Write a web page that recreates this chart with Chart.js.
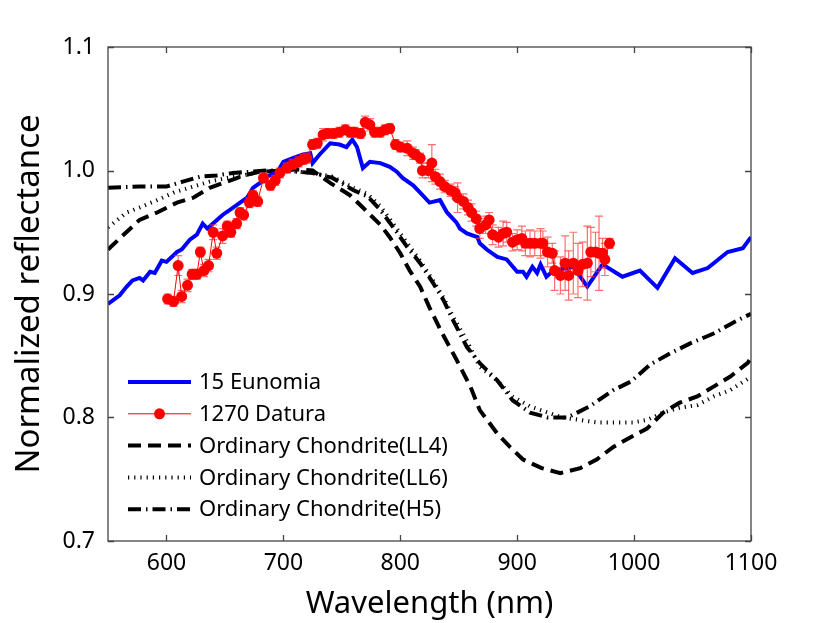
<!DOCTYPE html>
<html>
<head>
<meta charset="utf-8">
<script src="https://cdn.jsdelivr.net/npm/chart.js@4"></script>
<style>
  html, body { margin: 0; padding: 0; background: #fff; }
  canvas { display: block; }
</style>
</head>
<body>
<canvas id="chart" width="831" height="623"></canvas>
<script>
// axis ticks
var xTicks = [600, 700, 800, 900, 1000, 1100];
var yTicks = [0.7, 0.8, 0.9, 1.0, 1.1];

// 15 Eunomia
var eunomiaWave = [550, 560, 566, 571, 577, 580, 586, 590, 596, 600,
  609, 613, 620, 626, 631, 635, 641, 648, 657, 663,
  669, 674, 680, 686, 695, 700, 708, 717, 723, 725,
  731, 740, 748, 754, 759, 763, 768, 774, 783, 791,
  797, 802, 811, 817, 825, 834, 840, 848, 851, 857,
  866, 868, 874, 883, 891, 900, 905, 908, 913, 917,
  920, 925, 931, 943, 948, 960, 973, 990, 1005, 1020,
  1035, 1050, 1063, 1080, 1093, 1100];
var eunomiaRefl = [0.892, 0.899, 0.906, 0.911, 0.913, 0.911, 0.918, 0.917, 0.927, 0.926,
  0.934, 0.936, 0.944, 0.948, 0.957, 0.953, 0.958, 0.964, 0.970, 0.974,
  0.978, 0.986, 0.990, 0.995, 0.999, 1.007, 1.010, 1.013, 1.014, 1.006,
  1.013, 1.022, 1.021, 1.019, 1.025, 1.019, 1.002, 1.007, 1.006, 1.003,
  0.999, 0.994, 0.988, 0.982, 0.974, 0.976, 0.966, 0.958, 0.953, 0.949,
  0.946, 0.941, 0.936, 0.930, 0.928, 0.918, 0.918, 0.914, 0.922, 0.917,
  0.924, 0.914, 0.919, 0.921, 0.922, 0.906, 0.924, 0.914, 0.919, 0.905,
  0.929, 0.917, 0.921, 0.934, 0.937, 0.946];

// 1270 Datura (with 1-sigma errors)
var daturaWave = [601, 606, 610, 613, 618, 622, 626, 629, 632, 636,
  640, 643, 648, 652, 655, 660, 663, 666, 671, 674,
  678, 683, 689, 693, 697, 703, 708, 713, 717, 720,
  725, 729, 734, 738, 743, 748, 753, 757, 761, 766,
  770, 774, 778, 783, 787, 791, 796, 800, 806, 811,
  813, 817, 819, 824, 827, 830, 834, 838, 843, 847,
  849, 854, 858, 861, 865, 868, 873, 876, 879, 884,
  888, 891, 896, 900, 904, 907, 911, 915, 920, 922,
  926, 930, 932, 937, 941, 944, 948, 952, 956, 960,
  963, 967, 970, 973, 975, 979];
var daturaRefl = [0.896, 0.894, 0.923, 0.898, 0.907, 0.916, 0.916, 0.934, 0.919, 0.923,
  0.950, 0.933, 0.947, 0.955, 0.950, 0.957, 0.966, 0.964, 0.974, 0.980,
  0.975, 0.994, 0.988, 0.992, 0.998, 1.002, 1.005, 1.007, 1.009, 1.010,
  1.021, 1.022, 1.029, 1.030, 1.030, 1.031, 1.033, 1.031, 1.031, 1.030,
  1.039, 1.037, 1.031, 1.031, 1.033, 1.034, 1.021, 1.019, 1.018, 1.014,
  1.013, 1.010, 1.000, 1.000, 1.006, 0.995, 0.991, 0.987, 0.984, 0.982,
  0.978, 0.975, 0.970, 0.966, 0.961, 0.953, 0.956, 0.960, 0.948, 0.946,
  0.949, 0.950, 0.942, 0.944, 0.945, 0.941, 0.941, 0.941, 0.941, 0.941,
  0.934, 0.933, 0.919, 0.915, 0.925, 0.915, 0.925, 0.919, 0.924, 0.925,
  0.934, 0.934, 0.933, 0.933, 0.928, 0.941];
var daturaErr = [0.004, 0.004, 0.008, 0.005, 0.005, 0.004, 0.004, 0.004, 0.005, 0.005,
  0.006, 0.005, 0.006, 0.004, 0.004, 0.004, 0.004, 0.004, 0.004, 0.004,
  0.004, 0.004, 0.004, 0.004, 0.004, 0.004, 0.004, 0.004, 0.004, 0.004,
  0.004, 0.004, 0.005, 0.004, 0.004, 0.004, 0.004, 0.004, 0.004, 0.004,
  0.005, 0.005, 0.004, 0.004, 0.004, 0.004, 0.004, 0.004, 0.006, 0.005,
  0.004, 0.004, 0.006, 0.006, 0.015, 0.006, 0.006, 0.005, 0.005, 0.005,
  0.012, 0.006, 0.006, 0.007, 0.006, 0.008, 0.007, 0.006, 0.008, 0.008,
  0.010, 0.008, 0.007, 0.008, 0.010, 0.010, 0.011, 0.010, 0.012, 0.010,
  0.012, 0.008, 0.016, 0.015, 0.022, 0.020, 0.025, 0.022, 0.018, 0.030,
  0.020, 0.016, 0.030, 0.012, 0.013, 0.004];

// Ordinary chondrites
var ll4Wave = [550, 560, 577, 592, 609, 623, 637, 652, 666, 680,
  700, 712, 725, 740, 757, 768, 783, 791, 800, 808,
  817, 825, 836, 848, 860, 868, 883, 894, 905, 921,
  937, 954, 968, 982, 997, 1011, 1025, 1039, 1054, 1068,
  1082, 1097, 1100];
var ll4Refl = [0.936, 0.945, 0.960, 0.966, 0.974, 0.978, 0.986, 0.991, 0.996, 0.999,
  1.000, 1.001, 1.000, 0.990, 0.980, 0.970, 0.956, 0.946, 0.933, 0.919,
  0.906, 0.889, 0.868, 0.847, 0.825, 0.806, 0.787, 0.776, 0.766, 0.759,
  0.755, 0.759, 0.766, 0.776, 0.784, 0.791, 0.804, 0.812, 0.817, 0.825,
  0.833, 0.844, 0.848];

var ll6Wave = [550, 566, 577, 592, 606, 623, 637, 652, 666, 680,
  700, 712, 725, 742, 760, 772, 783, 794, 806, 817,
  828, 837, 845, 857, 868, 883, 896, 911, 926, 939,
  954, 968, 982, 999, 1011, 1025, 1039, 1054, 1068, 1082,
  1100];
var ll6Refl = [0.954, 0.966, 0.970, 0.976, 0.982, 0.987, 0.991, 0.994, 0.996, 0.999,
  1.000, 0.999, 0.998, 0.995, 0.986, 0.981, 0.971, 0.957, 0.941, 0.927,
  0.911, 0.897, 0.882, 0.862, 0.841, 0.830, 0.817, 0.809, 0.804, 0.800,
  0.798, 0.796, 0.796, 0.796, 0.798, 0.804, 0.808, 0.810, 0.817, 0.822,
  0.833];

var h5Wave = [550, 577, 600, 614, 629, 643, 657, 672, 686, 700,
  712, 725, 742, 760, 772, 783, 794, 806, 817, 828,
  837, 845, 857, 868, 883, 896, 911, 926, 943, 962,
  982, 997, 1014, 1031, 1048, 1068, 1085, 1100];
var h5Refl = [0.986, 0.987, 0.987, 0.991, 0.995, 0.996, 0.998, 0.999, 1.000, 1.000,
  0.999, 0.998, 0.994, 0.984, 0.979, 0.968, 0.954, 0.938, 0.925, 0.909,
  0.895, 0.879, 0.857, 0.844, 0.830, 0.814, 0.804, 0.800, 0.800, 0.809,
  0.822, 0.829, 0.843, 0.852, 0.860, 0.868, 0.877, 0.884];

var FONT = '"Noto Sans", sans-serif';

function pts(xs, ys) {
  return xs.map(function (x, i) { return {x: x, y: ys[i]}; });
}

// legend entries (drawn by plugin below)
var legendItems = [
  {label: '15 Eunomia', color: '#0000ff', width: 4, dash: [], marker: false},
  {label: '1270 Datura', color: '#ff0000', width: 1, dash: [], marker: true},
  {label: 'Ordinary Chondrite(LL4)', color: '#000', width: 4, dash: [13, 7], marker: false},
  {label: 'Ordinary Chondrite(LL6)', color: '#000', width: 4, dash: [1.2, 5], marker: false},
  {label: 'Ordinary Chondrite(H5)', color: '#000', width: 4, dash: [13, 5, 1.5, 5], marker: false}
];

var errorBars = {
  id: 'errorBars',
  beforeDatasetDraw: function (chart, args) {
    if (args.index !== 0) return;
    var ctx = chart.ctx, xs = chart.scales.x, ys = chart.scales.y;
    ctx.save();
    ctx.strokeStyle = 'rgba(255, 50, 50, 0.7)';
    ctx.lineWidth = 1.2;
    for (var i = 0; i < daturaWave.length; i++) {
      var px = xs.getPixelForValue(daturaWave[i]);
      var y1 = ys.getPixelForValue(daturaRefl[i] + daturaErr[i]);
      var y2 = ys.getPixelForValue(daturaRefl[i] - daturaErr[i]);
      ctx.beginPath();
      ctx.moveTo(px, y1); ctx.lineTo(px, y2);
      ctx.moveTo(px - 4, y1); ctx.lineTo(px + 4, y1);
      ctx.moveTo(px - 4, y2); ctx.lineTo(px + 4, y2);
      ctx.stroke();
    }
    ctx.restore();
  }
};

var frameAndLegend = {
  id: 'frameAndLegend',
  afterDraw: function (chart) {
    var ctx = chart.ctx, a = chart.chartArea;
    var xs = chart.scales.x, ys = chart.scales.y;
    ctx.save();
    // box
    ctx.strokeStyle = '#444';
    ctx.lineWidth = 1.3;
    ctx.strokeRect(a.left, a.top, a.right - a.left, a.bottom - a.top);
    // inward ticks
    ctx.beginPath();
    xTicks.forEach(function (v) {
      var p = Math.round(xs.getPixelForValue(v)) + 0.5;
      ctx.moveTo(p, a.bottom); ctx.lineTo(p, a.bottom - 6);
      ctx.moveTo(p, a.top); ctx.lineTo(p, a.top + 6);
    });
    yTicks.forEach(function (v) {
      var p = Math.round(ys.getPixelForValue(v)) + 0.5;
      ctx.moveTo(a.left, p); ctx.lineTo(a.left + 6, p);
      ctx.moveTo(a.right, p); ctx.lineTo(a.right - 6, p);
    });
    ctx.stroke();

    // legend
    var x0 = 128, x1 = 191, tx = 199, y = 382, step = 31.8;
    ctx.font = '22px ' + FONT;
    ctx.textBaseline = 'middle';
    ctx.textAlign = 'left';
    legendItems.forEach(function (it, i) {
      var yy = y + i * step;
      ctx.strokeStyle = it.color;
      ctx.lineWidth = it.width;
      ctx.setLineDash(it.dash);
      ctx.beginPath();
      ctx.moveTo(x0, yy); ctx.lineTo(x1, yy);
      ctx.stroke();
      ctx.setLineDash([]);
      if (it.marker) {
        ctx.fillStyle = it.color;
        ctx.beginPath();
        ctx.arc((x0 + x1) / 2, yy, 5.5, 0, Math.PI * 2);
        ctx.fill();
      }
      ctx.fillStyle = '#000';
      ctx.fillText(it.label, tx, yy + 1);
    });
    ctx.restore();
  }
};

var ctx = document.getElementById('chart');
new Chart(ctx, {
  type: 'line',
  data: {
    datasets: [
      {
        label: '1270 Datura',
        data: pts(daturaWave, daturaRefl),
        borderColor: '#ff0000',
        backgroundColor: '#ff0000',
        borderWidth: 1,
        pointRadius: 5.5,
        pointBorderWidth: 0,
        pointBackgroundColor: '#ff0000'
      },
      {
        label: '15 Eunomia',
        data: pts(eunomiaWave, eunomiaRefl),
        borderColor: '#0000ff',
        borderWidth: 4,
        pointRadius: 0
      },
      {
        label: 'Ordinary Chondrite(LL4)',
        data: pts(ll4Wave, ll4Refl),
        borderColor: '#000',
        borderWidth: 4,
        borderDash: [13, 7],
        pointRadius: 0
      },
      {
        label: 'Ordinary Chondrite(LL6)',
        data: pts(ll6Wave, ll6Refl),
        borderColor: '#000',
        borderWidth: 4,
        borderDash: [1.2, 5],
        pointRadius: 0
      },
      {
        label: 'Ordinary Chondrite(H5)',
        data: pts(h5Wave, h5Refl),
        borderColor: '#000',
        borderWidth: 4,
        borderDash: [13, 5, 1.5, 5],
        pointRadius: 0
      }
    ]
  },
  plugins: [errorBars, frameAndLegend],
  options: {
    responsive: false,
    animation: false,
    layout: {padding: {top: 47, right: 80, left: 0, bottom: 0}},
    elements: {line: {tension: 0}},
    plugins: {
      legend: {display: false},
      tooltip: {enabled: false}
    },
    scales: {
      x: {
        type: 'linear',
        min: 550,
        max: 1100,
        afterFit: function (s) { s.height = 82; },
        afterBuildTicks: function (s) {
          s.ticks = xTicks.map(function (v) { return {value: v}; });
        },
        grid: {display: false, drawTicks: false},
        border: {display: false},
        ticks: {
          color: '#000',
          padding: 9,
          maxRotation: 0,
          font: {family: FONT, size: 23},
          callback: function (v) { return String(v); }
        },
        title: {
          display: true,
          text: 'Wavelength (nm)',
          color: '#000',
          padding: {top: 0, bottom: 0},
          font: {family: FONT, size: 31}
        }
      },
      y: {
        type: 'linear',
        min: 0.7,
        max: 1.1,
        afterFit: function (s) { s.width = 108; },
        afterBuildTicks: function (s) {
          s.ticks = yTicks.map(function (v) { return {value: v}; });
        },
        grid: {display: false, drawTicks: false},
        border: {display: false},
        ticks: {
          color: '#000',
          padding: 13,
          font: {family: FONT, size: 23},
          callback: function (v) { return v.toFixed(1); }
        },
        title: {
          display: true,
          text: 'Normalized reflectance',
          color: '#000',
          padding: {top: 10, bottom: 0},
          font: {family: FONT, size: 33}
        }
      }
    }
  }
});
</script>
</body>
</html>
